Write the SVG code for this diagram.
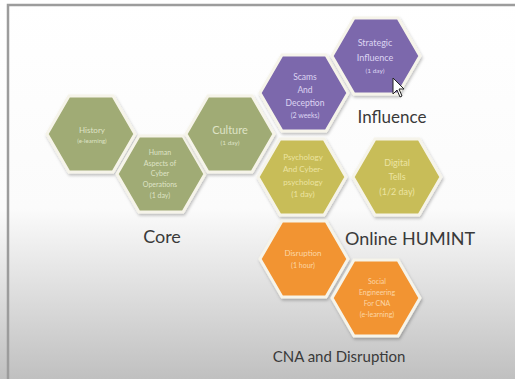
<svg xmlns="http://www.w3.org/2000/svg" width="515" height="379" viewBox="0 0 515 379">
<defs>
<linearGradient id="bg" x1="0" y1="0" x2="0" y2="1">
<stop offset="0" stop-color="#ffffff"/>
<stop offset="0.55" stop-color="#fbfbfb"/>
<stop offset="1" stop-color="#c0c0c0"/>
</linearGradient>
<filter id="sh" x="-20%" y="-20%" width="140%" height="140%">
<feDropShadow dx="1" dy="2" stdDeviation="1.5" flood-color="#000" flood-opacity="0.25"/>
</filter>
<path id="hex" d="M-44,0 L-22,-38 L22,-38 L44,0 L22,38 L-22,38 Z"/>
</defs>
<style>
.hex{stroke:#f6f4ea;stroke-width:3;filter:url(#sh)}
.g{fill:#a0ab74}.p{fill:#7b67ac}.y{fill:#c8bd58}.o{fill:#f29433}
text{font-family:Lato,"Open Sans","Liberation Sans",sans-serif;text-anchor:middle}
.tg{fill:#dfe3c6}.tp{fill:#dcd5f2}.ty{fill:#ece4a2}.to{fill:#fcd6a6}
.lbl{fill:#3a3a3a}
</style>
<rect x="0" y="0" width="515" height="379" fill="url(#bg)"/>
<path d="M8,379 L8,5 L515,5" fill="none" stroke="#9c9c9c" stroke-width="2.5"/>

<g id="history"><use href="#hex" x="91" y="134" class="hex g"/>
<text class="tg" x="92" y="133" font-size="8">History</text>
<text class="tg" x="92" y="143" font-size="6">(e-learning)</text></g>

<g id="human-aspects"><use href="#hex" x="161" y="174" class="hex g"/>
<text class="tg" x="160" y="155" font-size="7">Human</text>
<text class="tg" x="160" y="166" font-size="7">Aspects of</text>
<text class="tg" x="160" y="176" font-size="7">Cyber</text>
<text class="tg" x="160" y="187" font-size="7">Operations</text>
<text class="tg" x="160" y="198" font-size="7">(1 day)</text></g>

<g id="culture"><use href="#hex" x="230" y="134" class="hex g"/>
<text class="tg" x="230" y="134" font-size="11">Culture</text>
<text class="tg" x="230" y="145" font-size="6.5">(1 day)</text></g>

<g id="scams"><use href="#hex" x="304" y="93" class="hex p"/>
<text class="tp" x="305" y="80" font-size="8.5">Scams</text>
<text class="tp" x="305" y="93" font-size="8.5">And</text>
<text class="tp" x="305" y="106" font-size="8.5">Deception</text>
<text class="tp" x="305" y="118" font-size="7">(2 weeks)</text></g>

<g id="strategic"><use href="#hex" x="376" y="56" class="hex p"/>
<text class="tp" x="375" y="46" font-size="9">Strategic</text>
<text class="tp" x="375" y="61" font-size="9">Influence</text>
<text class="tp" x="375" y="73" font-size="6.5">(1 day)</text></g>

<g id="psychology"><use href="#hex" x="302" y="177" class="hex y"/>
<text class="ty" x="303" y="160" font-size="8">Psychology</text>
<text class="ty" x="303" y="172" font-size="8">And Cyber-</text>
<text class="ty" x="303" y="185" font-size="8">psychology</text>
<text class="ty" x="303" y="197" font-size="8">(1 day)</text></g>

<g id="digital-tells"><use href="#hex" x="397" y="177" class="hex y"/>
<text class="ty" x="397" y="166" font-size="9">Digital</text>
<text class="ty" x="397" y="180" font-size="9">Tells</text>
<text class="ty" x="397" y="195" font-size="9">(1/2 day)</text></g>

<g id="disruption"><use href="#hex" x="304" y="259" class="hex o"/>
<text class="to" x="303" y="256" font-size="8">Disruption</text>
<text class="to" x="303" y="268" font-size="7">(1 hour)</text></g>

<g id="social-engineering"><use href="#hex" x="376" y="298" class="hex o"/>
<text class="to" x="377" y="284" font-size="7">Social</text>
<text class="to" x="377" y="295" font-size="7">Engineering</text>
<text class="to" x="377" y="306" font-size="7">For CNA</text>
<text class="to" x="377" y="317" font-size="7">(e-learning)</text></g>

<g id="connectors"></g>

<g id="labels">
<text class="lbl" x="162" y="243" font-size="18">Core</text>
<text class="lbl" x="392" y="123" font-size="17">Influence</text>
<text class="lbl" x="410" y="245" font-size="18">Online HUMINT</text>
<text class="lbl" x="339" y="362" font-size="15">CNA and Disruption</text>
</g>

<g id="cursor"><path d="M393,78 L393,94 L397,90 L400,97 L402,96 L399,89 L404,89 Z" fill="#fff" stroke="#222" stroke-width="1"/></g>
</svg>
